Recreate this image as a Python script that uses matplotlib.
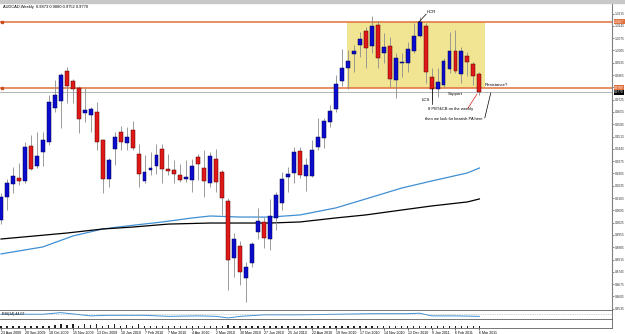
import numpy as np
import matplotlib.pyplot as plt
from matplotlib.patches import Rectangle
import matplotlib.transforms as mtransforms

plt.rcParams['font.family'] = ['Liberation Sans', 'DejaVu Sans']

W, H = 625, 334

# weekly AUDCAD bars, one per week from 23 Aug 2009 to 6 Mar 2011
opens = [0.9040, 0.9171, 0.9245, 0.9279, 0.9262, 0.9461, 0.9347, 0.9427, 0.9484, 0.9678,
         0.9718, 0.9888, 0.9831, 0.9792, 0.9649, 0.9638, 0.9655, 0.9496, 0.9274, 0.9444,
         0.9541, 0.9478, 0.9552, 0.9416, 0.9262, 0.9325, 0.9347, 0.9444, 0.9330, 0.9325,
         0.9296, 0.9274, 0.9268, 0.9399, 0.9336, 0.9251, 0.9387, 0.9313, 0.9148, 0.8824,
         0.8892, 0.8710, 0.8796, 0.8972, 0.9029, 0.8932, 0.9052, 0.9137, 0.9285, 0.9308,
         0.9433, 0.9291, 0.9291, 0.9456, 0.9507, 0.9598, 0.9672, 0.9831, 0.9905, 0.9985,
         1.0036, 1.0116, 1.0030, 1.0150, 0.9990, 1.0030, 0.9837, 0.9934, 0.9934, 1.0002,
         1.0087, 1.0144, 0.9854, 0.9786, 0.9808, 0.9899, 1.0002, 0.9871, 0.9973, 0.9928,
         0.9873]
highs = [0.9194, 0.9274, 0.9342, 0.9365, 0.9484, 0.9524, 0.9541, 0.9541, 0.9751, 0.9837,
         0.9877, 0.9911, 0.9843, 0.9803, 0.9792, 0.9683, 0.9712, 0.9501, 0.9393, 0.9541,
         0.9575, 0.9570, 0.9604, 0.9473, 0.9410, 0.9427, 0.9473, 0.9473, 0.9416, 0.9382,
         0.9359, 0.9382, 0.9387, 0.9416, 0.9439, 0.9427, 0.9444, 0.9325, 0.9165, 0.8966,
         0.8921, 0.8801, 0.8915, 0.9109, 0.9057, 0.9160, 0.9200, 0.9313, 0.9342, 0.9456,
         0.9456, 0.9393, 0.9496, 0.9621, 0.9621, 0.9695, 0.9865, 1.0013, 1.0008, 1.0036,
         1.0110, 1.0138, 1.0201, 1.0173, 1.0104, 1.0081, 0.9990, 0.9990, 1.0053, 1.0161,
         1.0195, 1.0161, 0.9905, 0.9905, 0.9962, 1.0110, 1.0121, 1.0025, 0.9996, 0.9939,
         0.9880]
lows = [0.9017, 0.9097, 0.9194, 0.9239, 0.9251, 0.9325, 0.9336, 0.9347, 0.9467, 0.9655,
        0.9564, 0.9706, 0.9706, 0.9535, 0.9598, 0.9541, 0.9439, 0.9194, 0.9228, 0.9353,
        0.9439, 0.9439, 0.9439, 0.9228, 0.9251, 0.9296, 0.9302, 0.9251, 0.9296, 0.9251,
        0.9256, 0.9256, 0.9200, 0.9268, 0.9171, 0.9228, 0.9200, 0.9069, 0.8642, 0.8716,
        0.8671, 0.8574, 0.8773, 0.8932, 0.8881, 0.8870, 0.8983, 0.9097, 0.9200, 0.9251,
        0.9279, 0.9205, 0.9285, 0.9439, 0.9450, 0.9569, 0.9655, 0.9803, 0.9786, 0.9882,
        0.9968, 0.9905, 0.9990, 0.9905, 0.9934, 0.9797, 0.9734, 0.9854, 0.9882, 0.9990,
        1.0081, 0.9820, 0.9723, 0.9740, 0.9797, 0.9877, 0.9877, 0.9820, 0.9860, 0.9808,
        0.9752]
closes = [0.9171, 0.9251, 0.9291, 0.9262, 0.9456, 0.9330, 0.9404, 0.9496, 0.9712, 0.9751,
          0.9865, 0.9803, 0.9786, 0.9615, 0.9666, 0.9672, 0.9484, 0.9274, 0.9382, 0.9512,
          0.9484, 0.9512, 0.9450, 0.9302, 0.9313, 0.9336, 0.9410, 0.9330, 0.9319, 0.9302,
          0.9268, 0.9285, 0.9347, 0.9359, 0.9262, 0.9404, 0.9256, 0.9165, 0.8813, 0.8932,
          0.8745, 0.8773, 0.8904, 0.9035, 0.8938, 0.9063, 0.9182, 0.9274, 0.9302, 0.9427,
          0.9296, 0.9353, 0.9439, 0.9512, 0.9604, 0.9661, 0.9814, 0.9905, 0.9945, 1.0002,
          1.0070, 1.0019, 1.0144, 0.9962, 1.0025, 0.9843, 0.9962, 0.9939, 1.0013, 1.0087,
          1.0167, 0.9882, 0.9786, 0.9825, 0.9945, 1.0002, 0.9888, 1.0002, 0.9939, 0.9860,
          0.9770]

# moving averages, read at a few bars
ma_fast_idx = [0, 7, 12, 17, 21, 27, 32, 35, 40, 45, 50, 56, 61, 67, 72, 78, 80]
ma_fast = [0.8847, 0.8887, 0.8949, 0.8989, 0.9006, 0.9029, 0.9052, 0.9063, 0.9057, 0.9057,
           0.9069, 0.9109, 0.9160, 0.9222, 0.9262, 0.9308, 0.9336]
ma_slow_idx = [0, 11, 17, 22, 28, 35, 39, 45, 50, 56, 61, 67, 72, 78, 80]
ma_slow = [0.8932, 0.8966, 0.8989, 0.9000, 0.9017, 0.9023, 0.9023, 0.9023, 0.9029, 0.9052,
           0.9069, 0.9097, 0.9120, 0.9143, 0.9160]

# sub window oscillator
osc_idx = [0, 7, 10, 15, 18, 24, 28, 33, 36, 38, 40, 44, 50, 56, 62, 68, 70, 72, 76, 80]
osc_val = [50, 50, 67, 33, 39, 39, 28, 33, 28, 11, 28, 44, 44, 50, 56, 56, 61, 33, 33, 28]

# volume ticks in the bottom window
volumes = [2, 2, 2, 2, 2, 2, 2, 2, 2, 3, 4, 3, 4, 2, 4, 3, 4, 2, 3, 4,
           2, 3, 2, 4, 2, 2, 2, 2, 2, 2, 2, 2, 2, 2, 2, 2, 2, 2, 3, 2,
           2, 2, 2, 2, 2, 2, 2, 2, 2, 2, 2, 2, 2, 2, 2, 2, 2, 2, 2, 2,
           2, 2, 2, 2, 2, 2, 2, 2, 2, 2, 2, 2, 2, 2, 2, 2, 2, 2, 2, 2, 2]

date_idx = list(range(0, 81, 4))
date_labels = ['23 Aug 2009', '20 Sep 2009', '18 Oct 2009', '15 Nov 2009', '13 Dec 2009',
               '10 Jan 2010', '7 Feb 2010', '7 Mar 2010', '4 Apr 2010', '2 May 2010',
               '30 May 2010', '27 Jun 2010', '25 Jul 2010', '22 Aug 2010', '19 Sep 2010',
               '17 Oct 2010', '14 Nov 2010', '12 Dec 2010', '9 Jan 2011', '6 Feb 2011',
               '6 Mar 2011']

zone_top, zone_bot = 1.0167, 0.9789
last_price = 0.9770
yticks = [round(0.8535 + 0.007 * k, 4) for k in range(25)]

fig = plt.figure(figsize=(W / 100, H / 100), dpi=100)
fig.patch.set_facecolor('white')
fig.patches.append(Rectangle((0, 1 - 2.5 / H), 1, 2.5 / H, transform=fig.transFigure,
                             color='#c8c8c8', zorder=0))


def px_axes(x0, y0, x1, y1):
    return fig.add_axes([x0 / W, 1 - y1 / H, (x1 - x0) / W, (y1 - y0) / H])


xl = (-1 / 5.98, 611 / 5.98)
lab = 2.35

ax = px_axes(0, 3, 612, 309.5)
ax.set_xlim(*xl)
ax.set_ylim(1.0292 - 0.000569 * 309.5, 1.0292 - 0.000569 * 3)

idx = np.arange(len(closes))
o, h, l, c = map(np.array, (opens, highs, lows, closes))
up = c >= o
ax.vlines(idx, l, h, color='#8c8c8c', lw=0.6, zorder=3)
body_lo = np.minimum(o, c)
body_h = np.maximum(np.abs(c - o), 0.0002)
ax.bar(idx[up], body_h[up], bottom=body_lo[up], width=0.66, color='#0b0bd0',
       edgecolor='#00004a', lw=0.35, zorder=4)
ax.bar(idx[~up], body_h[~up], bottom=body_lo[~up], width=0.66, color='#e01818',
       edgecolor='#5a0000', lw=0.35, zorder=4)

ax.plot(ma_fast_idx, ma_fast, color='#3f8fd2', lw=0.9, zorder=2)
ax.plot(ma_slow_idx, ma_slow, color='black', lw=0.9, zorder=2)

# zone
ax.add_patch(Rectangle((57.86, zone_bot), 23.1, zone_top - zone_bot, color='#f1e594',
                       lw=0, zorder=1))
for lvl in (zone_top, zone_bot):
    ax.axhline(lvl, color='#e0703c', lw=1.1, zorder=2)
    ax.plot([0.1], [lvl], marker='s', ms=1.6, color='#c85020', zorder=5)
ax.axhline(last_price, color='#a8a8a8', lw=0.6, zorder=1)

# notes
fs = 3.1
ax.text(72.0, 1.0224, 'HCR', fontsize=fs, ha='center', va='center', zorder=6)
ax.plot([69.9, 71.1], [1.0167, 1.0212], color='black', lw=0.5, zorder=6)
ax.text(71.0, 0.9722, 'LCS', fontsize=fs, ha='center', va='center', zorder=6)
ax.plot([72.1, 72.1], [0.9790, 0.9700], color='black', lw=0.5, zorder=6)
ax.text(75.9, 0.9757, 'Support', fontsize=fs, ha='center', va='center', zorder=6)
ax.text(80.8, 0.9808, 'Resistance?', fontsize=fs, ha='left', va='center', zorder=6)
ax.plot([79.6, 78.1], [0.9757, 0.9677], color='#d02020', lw=0.5, zorder=6)
ax.plot([81.9, 80.9], [0.9763, 0.9621], color='black', lw=0.5, zorder=6)
ax.text(75.2, 0.9672, 'If PBT&CB on the weekly', fontsize=2.9, ha='center', va='center', zorder=6)
ax.text(75.7, 0.9615, 'then we look for bearish PA here', fontsize=2.9, ha='center',
        va='center', zorder=6)

# price axis
ax.yaxis.tick_right()
ax.set_yticks(yticks)
ax.set_yticklabels(['%.4f' % v for v in yticks])
ax.tick_params(axis='y', labelsize=lab, length=1.2, width=0.4, pad=0.8, colors='#333333')
ax.set_xticks([])
for s in ('top', 'left', 'bottom'):
    ax.spines[s].set_visible(False)
ax.spines['right'].set_color('#808080')
ax.spines['right'].set_linewidth(0.8)
tr = mtransforms.blended_transform_factory(ax.transAxes, ax.transData)
ax.text(1.0035, 1.0285, '1.0285', transform=tr, fontsize=lab, va='center', ha='left',
        clip_on=False, color='#333333')
for val, bg, dy in ((zone_top, '#e0703c', 0), (zone_bot, '#e0703c', 0.0004),
                    (last_price, 'black', -0.0004)):
    ax.text(1.0035, val + dy, '%.4f' % val, transform=tr, fontsize=lab, va='center',
            ha='left', color='white', clip_on=False, zorder=7,
            bbox=dict(boxstyle='square,pad=0.15', fc=bg, ec='none'))

ax.text(3 / 612, 1 - 2 / 306.5, 'AUDCAD,Weekly  %.4f %.4f %.4f %.4f'
        % (opens[-1], highs[-1], lows[-1], closes[-1]),
        transform=ax.transAxes, fontsize=2.9, va='top', ha='left')

# oscillator window
ax2 = px_axes(0, 309.5, 612, 319)
ax2.set_xlim(*xl)
ax2.set_ylim(0, 100)
ax2.plot(osc_idx, osc_val, color='#3f8fd2', lw=0.7)
ax2.axhline(50, color='#a0a0a0', lw=0.5, ls=(0, (1, 1.5)))
ax2.set_xticks([])
ax2.set_yticks([])
for s in ax2.spines.values():
    s.set_color('#606060')
    s.set_linewidth(0.6)
ax2.spines['left'].set_visible(False)
ax2.text(0.004, 0.55, 'RSI(14) 44.07', transform=ax2.transAxes, fontsize=2.6,
         va='center', ha='left')

# volume window
ax3 = px_axes(0, 319, 612, 327.5)
ax3.set_xlim(*xl)
ax3.set_ylim(0, 9)
ax3.bar(idx, volumes, width=0.25, color='#202020')
ax3.set_yticks([])
ax3.set_xticks(date_idx)
ax3.set_xticklabels(date_labels, ha='left')
ax3.tick_params(axis='x', labelsize=2.6, length=1.2, width=0.4, pad=1.2)
for s in ax3.spines.values():
    s.set_color('#606060')
    s.set_linewidth(0.6)
ax3.spines['left'].set_visible(False)

fig.savefig('out.png', dpi=100)
